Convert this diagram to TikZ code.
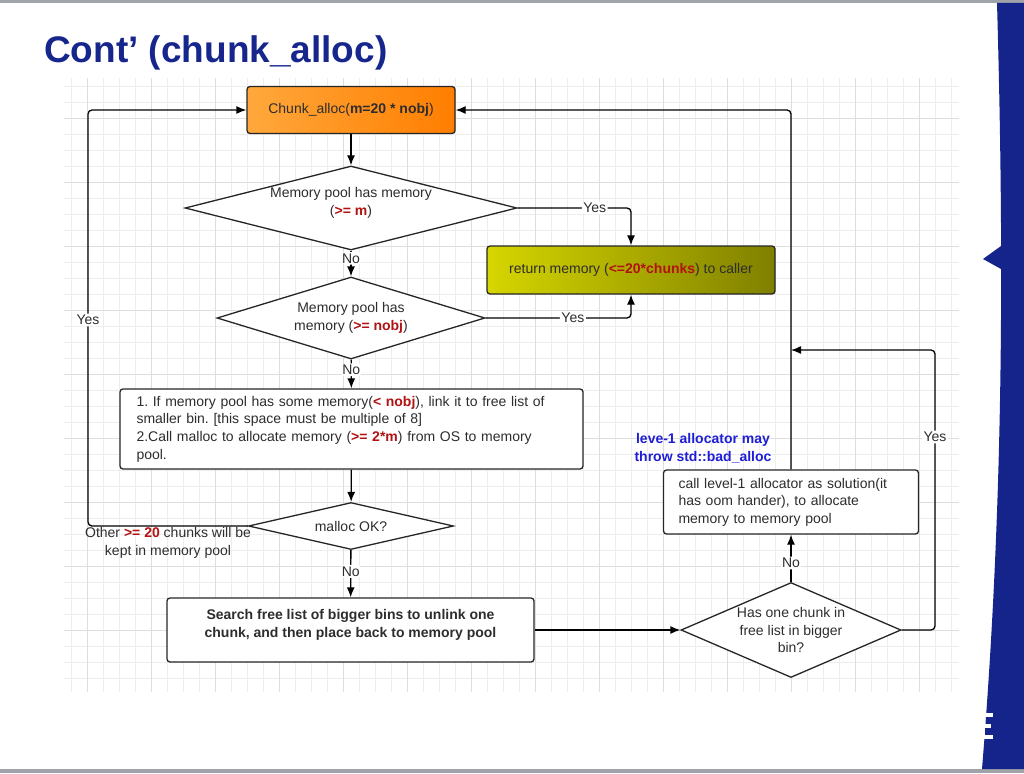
\documentclass[tikz,border=0pt]{standalone}
\usepackage{fontspec}
\setmainfont{Liberation Sans}
\usetikzlibrary{shapes.geometric, arrows.meta, positioning, calc}
\frenchspacing

\definecolor{titleblue}{RGB}{22,38,140}
\definecolor{slideblue}{RGB}{20,36,138}
\definecolor{framegray}{RGB}{160,164,170}
\definecolor{textgray}{RGB}{45,45,45}
\definecolor{alertred}{RGB}{178,18,18}
\definecolor{noteblue}{RGB}{30,30,215}
\definecolor{startleft}{RGB}{255,168,60}
\definecolor{startright}{RGB}{255,126,0}
\definecolor{retleft}{RGB}{214,214,0}
\definecolor{retright}{RGB}{128,128,0}

\newcommand{\hot}[1]{\textcolor{alertred}{\textbf{#1}}}

\tikzset{
  box/.style={draw=black!85, line width=1.3pt, rounded corners=3pt, fill=white,
    text=textgray, font=\fontsize{14}{17.6}\selectfont, inner sep=0pt},
  decision/.style={diamond, draw=black!85, line width=1.3pt, fill=white,
    text=textgray, font=\fontsize{14}{17.6}\selectfont, inner sep=0pt, align=center},
  flow/.style={line width=1.3pt, rounded corners=4pt, -{Latex[length=10pt,width=8pt]}},
  answer/.style={fill=white, text=textgray, font=\fontsize{14}{16}\selectfont, inner sep=1.5pt},
  gridminor/.style={black!7, line width=0.8pt},
  gridmajor/.style={black!13, line width=0.8pt}
}

\begin{document}
\begin{tikzpicture}[x=1pt, y=-1pt]
  \useasboundingbox (0,0) rectangle (1024,773);
  \fill[white] (0,0) rectangle (1024,773);

  % Grid paper
  \foreach \gx in {71,87,...,959}
    \draw[gridminor] (\gx,78) -- (\gx,692);
  \foreach \gy in {86,102,...,692}
    \draw[gridminor] (64,\gy) -- (959,\gy);
  \foreach \gx in {87,151,...,959}
    \draw[gridmajor] (\gx,78) -- (\gx,692);
  \foreach \gy in {118,182,...,692}
    \draw[gridmajor] (64,\gy) -- (959,\gy);

  % Slide frame
  \fill[framegray] (0,0) rectangle (1024,3);
  \fill[framegray] (0,769) rectangle (1024,773);
  \fill[slideblue] (997,3) .. controls (1004,250) and (1004,500) .. (982,769)
    -- (1024,769) -- (1024,3) -- cycle;
  \fill[slideblue] (1001,246) -- (983,259) -- (1001,269) -- cycle;
  \fill[white] (982,713) rectangle (985,739);
  \fill[white] (982,713) rectangle (993,717);
  \fill[white] (982,724) rectangle (991,728);
  \fill[white] (982,735) rectangle (993,739);

  % Title
  \node[anchor=base west, text=titleblue, font=\fontsize{37}{40}\selectfont\bfseries,
    inner sep=0pt] (title) at (44,63) {Cont’ (chunk\_alloc)};

  % Steps
  \node[box, left color=startleft, right color=startright, minimum width=208pt,
    minimum height=47pt] (start) at (351,110) {Chunk\_alloc(\textbf{m=20 * nobj})};
  \node[decision, aspect=3.95, minimum width=332pt, minimum height=84pt]
    (poolm) at (351,208) {Memory pool has memory\\(\hot{>= m})\\[-4pt]};
  \node[box, left color=retleft, right color=retright, minimum width=288pt,
    minimum height=48pt] (ret) at (631,270) {return memory (\hot{<=20*chunks}) to caller};
  \node[decision, aspect=3.27, minimum width=268pt, minimum height=82pt]
    (poolobj) at (351,318) {Memory pool has\\memory (\hot{>= nobj})};
  \node[box, minimum width=463pt, minimum height=80pt, text width=430pt, align=left]
    (refill) at (351.5,429) {1. If memory pool has some memory(\hot{< nobj}), link it to free list of\\
      smaller bin. [this space must be multiple of 8]\\
      2.Call malloc to allocate memory (\hot{>= 2*m}) from OS to memory\\
      pool.};
  \node[decision, aspect=4.36, minimum width=205pt, minimum height=47pt]
    (mallocok) at (351,526) {malloc OK?};
  \node[box, minimum width=367pt, minimum height=64pt, font=\fontsize{14}{17.6}\selectfont\bfseries,
    align=center] (search) at (350.5,630) {Search free list of bigger bins to unlink one\\
      chunk, and then place back to memory pool\\[-4pt]};
  \node[decision, aspect=2.3, minimum width=220pt, minimum height=95pt]
    (bigger) at (791,630) {Has one chunk in\\free list in bigger\\bin?};
  \node[box, minimum width=255pt, minimum height=64pt, text width=225pt, align=left]
    (levelone) at (791,502) {call level-1 allocator as solution(it\\
      has oom hander), to allocate\\
      memory to memory pool};

  % Notes
  \node[text=textgray, font=\fontsize{14}{17.6}\selectfont, align=center, inner sep=0pt]
    (keep) at (168,543) {Other \hot{>= 20} chunks will be\\kept in memory pool};
  \node[text=noteblue, font=\fontsize{14}{17.6}\selectfont\bfseries, align=center, inner sep=0pt]
    (badalloc) at (703,448) {leve-1 allocator may\\throw std::bad\_alloc};

  % Connectors
  \coordinate (yesleft) at (88,320);
  \coordinate (yesright) at (935,437);
  \coordinate (join) at (791,350);

  \draw[flow] (start) -- (poolm);
  \draw[flow] (poolm.east) -| node[answer, pos=0.34] {Yes} (ret.north);
  \draw[flow] (poolm) -- node[answer, pos=0.3] {No} (poolobj);
  \draw[flow] (poolobj.east) -| node[answer, pos=0.3] {Yes} (ret.south);
  \draw[flow] (poolobj) -- node[answer, pos=0.35] {No} (refill);
  \draw[flow] (refill) -- (mallocok);
  \draw[flow] (mallocok.west) -| (yesleft) node[answer] {Yes} |- (start.west);
  \draw[flow] (mallocok) -- node[answer, pos=0.45] {No} (search);
  \draw[flow] (search) -- (bigger);
  \draw[flow] (bigger) -- node[answer, pos=0.4] {No} (levelone);
  \draw[flow] (levelone.north) |- (start.east);
  \draw[flow] (bigger.east) -| (yesright) node[answer] {Yes} |- (join);
\end{tikzpicture}
\end{document}
